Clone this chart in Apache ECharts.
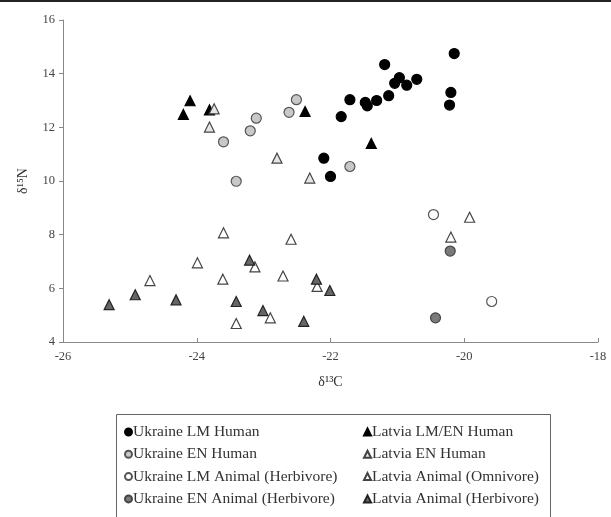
<!DOCTYPE html>
<html><head><meta charset="utf-8">
<script src="https://cdn.jsdelivr.net/npm/echarts@6/dist/echarts.min.js"></script>
<style>html,body{margin:0;padding:0;background:#fff}#c{width:611px;height:517px}</style>
</head><body><div id="c"></div>
<script>
// [d13C, d15N]
const ukraineLMHuman = [[-20.15,14.75],[-21.19,14.34],[-20.2,13.3],[-20.22,12.83],[-20.71,13.79],[-20.97,13.85],[-20.86,13.57],[-21.04,13.64],[-21.13,13.18],[-21.31,13.0],[-21.48,12.93],[-21.45,12.8],[-21.71,13.03],[-21.84,12.4],[-22.1,10.85],[-22.0,10.17]];
const ukraineENHuman = [[-22.51,13.03],[-22.62,12.56],[-23.11,12.34],[-23.2,11.87],[-23.6,11.46],[-23.41,9.99],[-21.71,10.54]];
const ukraineLMAnimal = [[-20.46,8.75],[-19.59,5.51]];
const ukraineENAnimal = [[-20.21,7.39],[-20.43,4.9]];
const latviaLMENHuman = [[-24.1,12.99],[-24.2,12.48],[-23.81,12.65],[-22.38,12.59],[-21.39,11.4]];
const latviaENHuman = [[-23.74,12.69],[-23.81,12.01],[-22.8,10.85],[-22.31,10.11]];
const latviaOmnivore = [[-19.92,8.65],[-20.2,7.91],[-23.6,8.07],[-22.59,7.83],[-23.99,6.95],[-24.7,6.29],[-23.61,6.34],[-23.13,6.8],[-22.71,6.46],[-22.2,6.07],[-22.9,4.9],[-23.41,4.69]];
const latviaHerbivore = [[-25.31,5.39],[-24.92,5.76],[-24.31,5.57],[-23.41,5.51],[-23.21,7.05],[-23.01,5.17],[-22.4,4.77],[-22.21,6.34],[-22.01,5.92]];
const xTicks = [-26,-24,-22,-20,-18];
const yTicks = [4,6,8,10,12,14,16];

const FONT = '"Liberation Serif", "DejaVu Serif", serif';
function s(name, data, symbol, fill, border, size) {
  return { name, type:'scatter', data, symbol, symbolSize: size,
    itemStyle:{ color: fill, borderColor: border, borderWidth: 1.2, opacity:1 } };
}
const series = [
  s('Ukraine LM Human', ukraineLMHuman, 'circle', '#000', '#000', 10),
  s('Ukraine EN Human', ukraineENHuman, 'circle', '#c8c8c8', '#555', 10),
  s('Ukraine LM Animal (Herbivore)', ukraineLMAnimal, 'circle', '#fff', '#555', 10),
  s('Ukraine EN Animal (Herbivore)', ukraineENAnimal, 'circle', '#7a7a7a', '#444', 10),
  s('Latvia LM/EN Human', latviaLMENHuman, 'triangle', '#000', '#000', 10),
  s('Latvia EN Human', latviaENHuman, 'triangle', '#e6e6e6', '#444', 10),
  s('Latvia Animal (Omnivore)', latviaOmnivore, 'triangle', '#fff', '#444', 10),
  s('Latvia Animal (Herbivore)', latviaHerbivore, 'triangle', '#666', '#222', 10)
];
const legendCommon = { orient:'vertical', itemWidth:7, itemHeight:7, itemGap:6.3, height:110, padding:0,
  textStyle:{ fontFamily:FONT, fontSize:15.5, color:'#333', lineHeight:16, padding:[0,0,0,-4] } };
const chart = echarts.init(document.getElementById('c'));
chart.setOption({
  animation:false,
  backgroundColor:'#fff',
  grid:{ left:63, right:13, top:20, bottom:175 },
  xAxis:{ type:'value', min:xTicks[0], max:xTicks[xTicks.length-1], interval:2,
    name:'δ¹³C', nameLocation:'middle', nameGap:33,
    nameTextStyle:{ fontFamily:FONT, fontSize:14, color:'#333' },
    axisLine:{ show:true, lineStyle:{ color:'#888' } },
    axisTick:{ show:true, inside:true, length:4, lineStyle:{ color:'#888' } },
    axisLabel:{ fontFamily:FONT, fontSize:12.5, color:'#444', margin:8 },
    splitLine:{ show:false } },
  yAxis:{ type:'value', min:yTicks[0], max:yTicks[yTicks.length-1], interval:2,
    name:'δ¹⁵N', nameLocation:'middle', nameGap:33, nameRotate:90,
    nameTextStyle:{ fontFamily:FONT, fontSize:14, color:'#333' },
    axisLine:{ show:true, lineStyle:{ color:'#888' } },
    axisTick:{ show:true, length:4, lineStyle:{ color:'#888' } },
    axisLabel:{ fontFamily:FONT, fontSize:12.5, color:'#444', margin:8 },
    splitLine:{ show:false } },
  legend:[
    Object.assign({}, legendCommon, { left:124, top:424, data:series.slice(0,4).map(d=>d.name) }),
    Object.assign({}, legendCommon, { left:363, top:424, data:series.slice(4).map(d=>d.name) })
  ],
  graphic:[
    { type:'rect', left:114, top:412, shape:{ width:434, height:110 }, style:{ fill:'none', stroke:'#666', lineWidth:1 } },
    { type:'rect', left:0, top:0, shape:{ width:611, height:2 }, style:{ fill:'#222' } }
  ],
  series
});
</script></body></html>
